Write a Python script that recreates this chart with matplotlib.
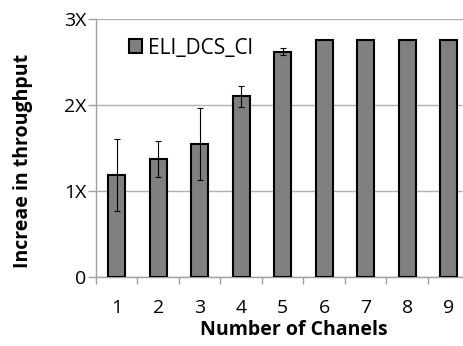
import numpy as np
import matplotlib.pyplot as plt

plt.rcParams['font.family'] = ['Open Sans', 'DejaVu Sans']

# throughput gain per channel count
canales = [1, 2, 3, 4, 5, 6, 7, 8, 9]
aumento = [1.19, 1.37, 1.55, 2.10, 2.62, 2.76, 2.76, 2.76, 2.76]
error = [0.42, 0.21, 0.42, 0.12, 0.04, 0, 0, 0, 0]
etiquetas_y = ['0', '1X', '2X', '3X']

fig = plt.figure(figsize=(4.64, 3.46), dpi=100)
ax = fig.add_axes([96 / 464, 1 - 277 / 346, 373.5 / 464, 258 / 346])

x = np.arange(len(canales))
yerr = np.array(error)
ax.bar(x, aumento, width=0.41, color='#808080', edgecolor='black', linewidth=1.5,
       label='ELI_DCS_Cl', zorder=3)
mask = yerr > 0
ax.errorbar(x[mask], np.array(aumento)[mask], yerr=yerr[mask], fmt='none',
            ecolor='black', elinewidth=0.8, capsize=2, capthick=0.8, zorder=4)

ax.set_xlim(-0.5, len(canales) - 0.5)
ax.set_ylim(0, 3)
ax.set_yticks([0, 1, 2, 3])
ax.set_yticklabels(etiquetas_y, fontsize=14)
ax.set_xticks(x)
ax.set_xticklabels([str(c) for c in canales], fontsize=14)
ax.tick_params(axis='x', length=0, pad=16)
ax.set_xticks(np.arange(-0.5, len(canales)), minor=True)
ax.tick_params(axis='x', which='minor', length=5, color='#a0a0a0', width=1)
ax.tick_params(axis='y', length=6, color='#a0a0a0', width=1, pad=1)

ax.yaxis.grid(True, color='#b0b0b0', linewidth=1)
ax.set_axisbelow(True)
for s in ['top', 'right']:
    ax.spines[s].set_visible(False)
for s in ['left', 'bottom']:
    ax.spines[s].set_color('#a0a0a0')
    ax.spines[s].set_linewidth(1)

ax.set_xlabel('Number of Chanels', fontsize=14, fontweight='bold')
ax.set_ylabel('Increae in throughput', fontsize=14, fontweight='bold')
ax.xaxis.set_label_coords(0.529, -0.165)
ax.yaxis.set_label_coords(-0.17, 0.45)

ax.legend(loc='upper left', bbox_to_anchor=(0.065, 0.96), frameon=False, fontsize=15,
          handlelength=0.65, handleheight=0.65, handletextpad=0.3, borderaxespad=0)

plt.savefig('out.png')
